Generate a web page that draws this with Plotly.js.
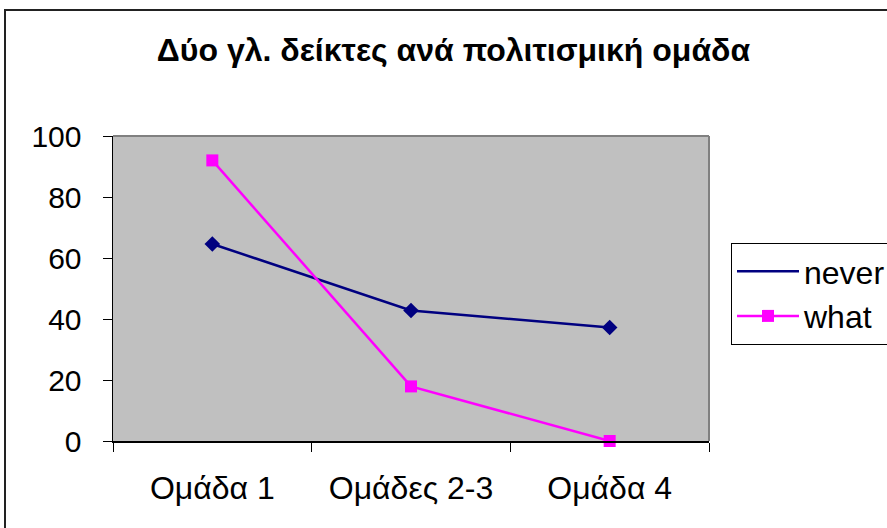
<!DOCTYPE html>
<html>
<head>
<meta charset="utf-8">
<script src="https://cdn.plot.ly/plotly-3.0.1.min.js"></script>
<style>html,body{margin:0;padding:0;background:#fff;}#chart{width:887px;height:528px;}</style>
</head>
<body>
<div id="chart"></div>
<script>
const categories = ["Ομάδα 1", "Ομάδες 2-3", "Ομάδα 4"];
const neverValues = [64.6, 42.8, 37.2];
const whatValues = [92.0, 17.9, 0];
const yTicks = [0, 20, 40, 60, 80, 100];

const W = 887, H = 528;
const M = {l: 113, r: 178, t: 136, b: 87, autoexpand: false};
const pw = W - M.l - M.r, ph = H - M.t - M.b;
const px = x => (x - M.l) / pw;
const py = y => (H - M.b - y) / ph;

const FONT = "Liberation Sans, Arial, sans-serif";

const traces = [
  {
    x: categories, y: neverValues, name: "never", type: "scatter", mode: "lines",
    line: {color: "#000080", width: 2.5}, cliponaxis: false
  },
  {
    x: categories, y: neverValues, name: "never", type: "scatter", mode: "markers",
    marker: {color: "#000080", symbol: "diamond", size: 12}, showlegend: false, cliponaxis: false
  },
  {
    x: categories, y: whatValues, name: "what", type: "scatter", mode: "lines+markers",
    line: {color: "#FF00FF", width: 2.5},
    marker: {color: "#FF00FF", symbol: "square", size: 12}, cliponaxis: false
  }
];

const layout = {
  width: W, height: H,
  margin: M,
  paper_bgcolor: "#FFFFFF",
  plot_bgcolor: "#C0C0C0",
  font: {family: FONT, size: 32, color: "#000"},
  title: {
    text: "<b>Δύο γλ. δείκτες ανά πολιτισμική ομάδα</b>",
    font: {family: FONT, size: 32, color: "#000"},
    x: 453.5 / W, xref: "container", xanchor: "center",
    y: 1 - 50 / H, yref: "container", yanchor: "middle"
  },
  xaxis: {
    type: "category", range: [-0.5, 2.5], tickson: "boundaries",
    ticks: "outside", ticklen: 9, tickwidth: 1, tickcolor: "#000",
    showline: true, linecolor: "#000", linewidth: 1.5,
    showgrid: false, zeroline: false, fixedrange: true, automargin: false,
    ticklabelstandoff: 18,
    tickfont: {family: FONT, size: 32, color: "#000"}
  },
  yaxis: {
    range: [0, 100], tickvals: yTicks, ticktext: yTicks.map(String),
    ticks: "outside", ticklen: 9, tickwidth: 1, tickcolor: "#000",
    showline: true, linecolor: "#000", linewidth: 1.5,
    showgrid: false, zeroline: false, fixedrange: true, automargin: false,
    ticklabelstandoff: 15,
    tickfont: {family: FONT, size: 30, color: "#000"}
  },
  legend: {
    x: px(731), xanchor: "left", y: py(243), yanchor: "top",
    bgcolor: "#FFFFFF", bordercolor: "#000", borderwidth: 1,
    font: {family: FONT, size: 32, color: "#000"},
    tracegroupgap: 0, itemwidth: 62
  },
  shapes: [
    {type: "line", xref: "paper", yref: "paper", x0: 0, x1: 1, y0: 1, y1: 1,
     line: {color: "#808080", width: 2}, layer: "above"},
    {type: "line", xref: "paper", yref: "paper", x0: 1, x1: 1, y0: 0, y1: 1,
     line: {color: "#808080", width: 2}, layer: "above"},
    {type: "rect", xref: "paper", yref: "paper", x0: px(5), x1: px(W + 20), y0: py(H + 20), y1: py(10),
     line: {color: "#222", width: 2}, fillcolor: "rgba(0,0,0,0)", layer: "above"}
  ],
  showlegend: true
};

Plotly.newPlot("chart", traces, layout, {displayModeBar: false, staticPlot: true});
</script>
</body>
</html>
